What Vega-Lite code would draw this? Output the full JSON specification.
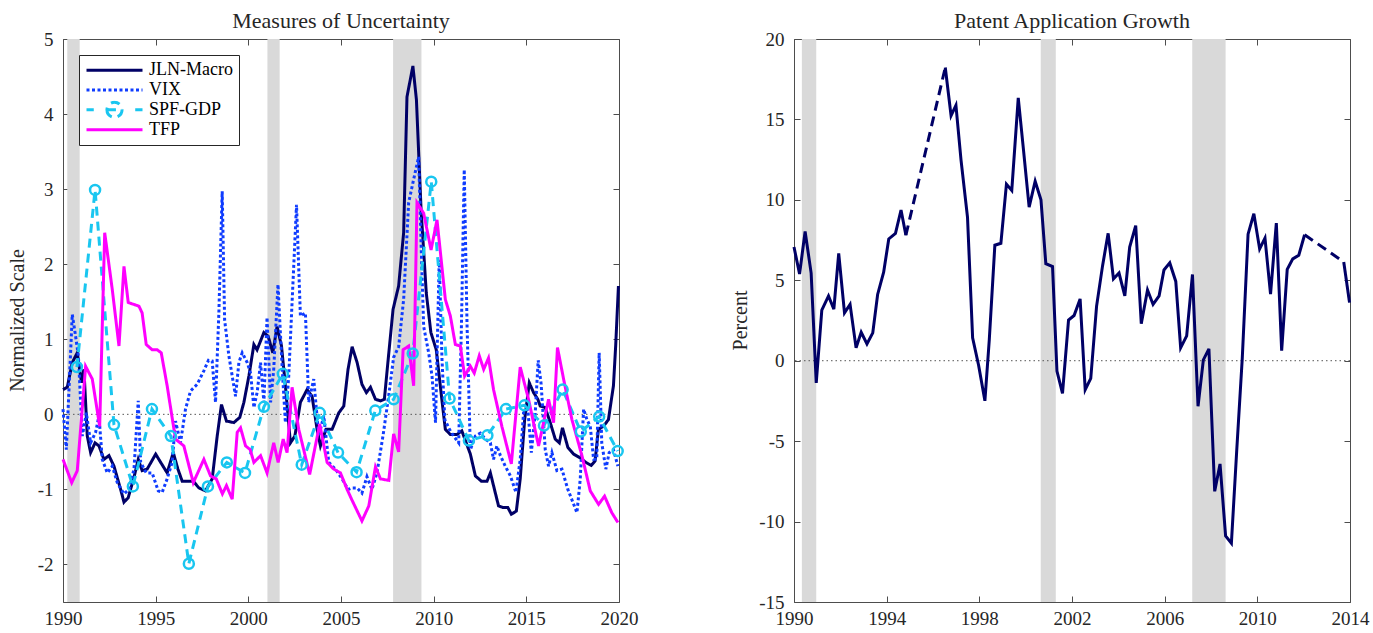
{
  "$schema": "https://vega.github.io/schema/vega-lite/v6.json",
  "padding": {"left": 6, "top": 9, "right": 0, "bottom": 0},
  "spacing": 175,
  "bounds": "flush",
  "config": {
    "font": "Liberation Serif",
    "view": {"stroke": "#4d4d4d", "strokeWidth": 1},
    "axis": {"labelFont": "Liberation Serif", "labelFontSize": 19, "labelColor": "#262626", "domain": false, "tickColor": "#4d4d4d", "tickSize": -6, "grid": false, "titleFont": "Liberation Serif", "titleFontSize": 20, "titleFontWeight": "normal", "titleColor": "#262626", "labelFlush": false, "labelOverlap": false},
    "title": {"font": "Liberation Serif", "fontSize": 22, "fontWeight": "normal", "color": "#262626"}
  },
  "datasets": {
    "rec1": [{"a": 1990.23, "b": 1990.9}, {"a": 2001.03, "b": 2001.69}, {"a": 2007.81, "b": 2009.34}],
    "rec2": [{"a": 1990.34, "b": 1990.96}, {"a": 2000.65, "b": 2001.3}, {"a": 2007.19, "b": 2008.63}],
    "left": [
      {"s":"JLN-Macro","x":1990.0,"y":0.33},{"s":"JLN-Macro","x":1990.23,"y":0.36},{"s":"JLN-Macro","x":1990.5,"y":0.69},{"s":"JLN-Macro","x":1990.77,"y":0.82},{"s":"JLN-Macro","x":1991.0,"y":0.42},{"s":"JLN-Macro","x":1991.13,"y":0.6},{"s":"JLN-Macro","x":1991.31,"y":-0.29},{"s":"JLN-Macro","x":1991.49,"y":-0.51},{"s":"JLN-Macro","x":1991.73,"y":-0.38},{"s":"JLN-Macro","x":1991.94,"y":-0.42},{"s":"JLN-Macro","x":1992.21,"y":-0.6},{"s":"JLN-Macro","x":1992.48,"y":-0.55},{"s":"JLN-Macro","x":1992.75,"y":-0.69},{"s":"JLN-Macro","x":1993.11,"y":-1.0},{"s":"JLN-Macro","x":1993.29,"y":-1.17},{"s":"JLN-Macro","x":1993.52,"y":-1.11},{"s":"JLN-Macro","x":1993.83,"y":-0.84},{"s":"JLN-Macro","x":1994.06,"y":-0.6},{"s":"JLN-Macro","x":1994.27,"y":-0.75},{"s":"JLN-Macro","x":1994.54,"y":-0.73},{"s":"JLN-Macro","x":1995.0,"y":-0.53},{"s":"JLN-Macro","x":1995.27,"y":-0.64},{"s":"JLN-Macro","x":1995.62,"y":-0.78},{"s":"JLN-Macro","x":1995.95,"y":-0.51},{"s":"JLN-Macro","x":1996.2,"y":-0.73},{"s":"JLN-Macro","x":1996.43,"y":-0.89},{"s":"JLN-Macro","x":1996.7,"y":-0.89},{"s":"JLN-Macro","x":1997.03,"y":-0.89},{"s":"JLN-Macro","x":1997.33,"y":-0.98},{"s":"JLN-Macro","x":1997.69,"y":-1.02},{"s":"JLN-Macro","x":1998.05,"y":-0.86},{"s":"JLN-Macro","x":1998.32,"y":-0.29},{"s":"JLN-Macro","x":1998.55,"y":0.13},{"s":"JLN-Macro","x":1998.82,"y":-0.09},{"s":"JLN-Macro","x":1999.22,"y":-0.11},{"s":"JLN-Macro","x":1999.54,"y":-0.04},{"s":"JLN-Macro","x":1999.76,"y":0.16},{"s":"JLN-Macro","x":2000.03,"y":0.51},{"s":"JLN-Macro","x":2000.3,"y":0.93},{"s":"JLN-Macro","x":2000.47,"y":0.86},{"s":"JLN-Macro","x":2000.84,"y":1.09},{"s":"JLN-Macro","x":2001.07,"y":1.04},{"s":"JLN-Macro","x":2001.32,"y":0.82},{"s":"JLN-Macro","x":2001.55,"y":1.17},{"s":"JLN-Macro","x":2001.79,"y":0.91},{"s":"JLN-Macro","x":2002.0,"y":0.38},{"s":"JLN-Macro","x":2002.27,"y":-0.38},{"s":"JLN-Macro","x":2002.51,"y":-0.29},{"s":"JLN-Macro","x":2002.81,"y":0.16},{"s":"JLN-Macro","x":2003.17,"y":0.33},{"s":"JLN-Macro","x":2003.44,"y":0.24},{"s":"JLN-Macro","x":2003.71,"y":-0.2},{"s":"JLN-Macro","x":2003.89,"y":-0.42},{"s":"JLN-Macro","x":2004.19,"y":-0.2},{"s":"JLN-Macro","x":2004.52,"y":-0.2},{"s":"JLN-Macro","x":2004.88,"y":0.02},{"s":"JLN-Macro","x":2005.15,"y":0.11},{"s":"JLN-Macro","x":2005.38,"y":0.6},{"s":"JLN-Macro","x":2005.6,"y":0.9},{"s":"JLN-Macro","x":2005.87,"y":0.69},{"s":"JLN-Macro","x":2006.13,"y":0.4},{"s":"JLN-Macro","x":2006.37,"y":0.29},{"s":"JLN-Macro","x":2006.59,"y":0.36},{"s":"JLN-Macro","x":2006.86,"y":0.2},{"s":"JLN-Macro","x":2007.13,"y":0.18},{"s":"JLN-Macro","x":2007.34,"y":0.2},{"s":"JLN-Macro","x":2007.58,"y":0.82},{"s":"JLN-Macro","x":2007.81,"y":1.4},{"s":"JLN-Macro","x":2008.11,"y":1.71},{"s":"JLN-Macro","x":2008.38,"y":2.42},{"s":"JLN-Macro","x":2008.56,"y":4.23},{"s":"JLN-Macro","x":2008.88,"y":4.64},{"s":"JLN-Macro","x":2009.07,"y":4.19},{"s":"JLN-Macro","x":2009.32,"y":2.73},{"s":"JLN-Macro","x":2009.6,"y":1.62},{"s":"JLN-Macro","x":2009.85,"y":1.09},{"s":"JLN-Macro","x":2010.14,"y":0.86},{"s":"JLN-Macro","x":2010.5,"y":0.07},{"s":"JLN-Macro","x":2010.63,"y":-0.2},{"s":"JLN-Macro","x":2010.9,"y":-0.27},{"s":"JLN-Macro","x":2011.25,"y":-0.27},{"s":"JLN-Macro","x":2011.52,"y":-0.22},{"s":"JLN-Macro","x":2011.98,"y":-0.53},{"s":"JLN-Macro","x":2012.25,"y":-0.82},{"s":"JLN-Macro","x":2012.57,"y":-0.89},{"s":"JLN-Macro","x":2012.88,"y":-0.89},{"s":"JLN-Macro","x":2013.06,"y":-0.78},{"s":"JLN-Macro","x":2013.23,"y":-0.95},{"s":"JLN-Macro","x":2013.5,"y":-1.22},{"s":"JLN-Macro","x":2013.72,"y":-1.24},{"s":"JLN-Macro","x":2014.0,"y":-1.24},{"s":"JLN-Macro","x":2014.19,"y":-1.33},{"s":"JLN-Macro","x":2014.46,"y":-1.29},{"s":"JLN-Macro","x":2014.67,"y":-0.86},{"s":"JLN-Macro","x":2014.91,"y":-0.07},{"s":"JLN-Macro","x":2015.16,"y":0.42},{"s":"JLN-Macro","x":2015.39,"y":0.29},{"s":"JLN-Macro","x":2015.62,"y":0.2},{"s":"JLN-Macro","x":2015.75,"y":0.11},{"s":"JLN-Macro","x":2016.02,"y":0.09},{"s":"JLN-Macro","x":2016.29,"y":-0.11},{"s":"JLN-Macro","x":2016.56,"y":-0.33},{"s":"JLN-Macro","x":2016.78,"y":-0.38},{"s":"JLN-Macro","x":2016.95,"y":-0.18},{"s":"JLN-Macro","x":2017.24,"y":-0.44},{"s":"JLN-Macro","x":2017.55,"y":-0.53},{"s":"JLN-Macro","x":2017.91,"y":-0.58},{"s":"JLN-Macro","x":2018.21,"y":-0.64},{"s":"JLN-Macro","x":2018.5,"y":-0.68},{"s":"JLN-Macro","x":2018.71,"y":-0.62},{"s":"JLN-Macro","x":2018.89,"y":-0.2},{"s":"JLN-Macro","x":2019.16,"y":-0.16},{"s":"JLN-Macro","x":2019.43,"y":-0.07},{"s":"JLN-Macro","x":2019.7,"y":0.38},{"s":"JLN-Macro","x":2019.82,"y":0.91},{"s":"JLN-Macro","x":2019.97,"y":1.71},
      {"s":"VIX","x":1990.0,"y":0.07},{"s":"VIX","x":1990.18,"y":-0.47},{"s":"VIX","x":1990.5,"y":1.33},{"s":"VIX","x":1990.65,"y":1.09},{"s":"VIX","x":1990.83,"y":0.78},{"s":"VIX","x":1991.04,"y":-0.29},{"s":"VIX","x":1991.26,"y":0.02},{"s":"VIX","x":1991.49,"y":-0.38},{"s":"VIX","x":1991.76,"y":-0.24},{"s":"VIX","x":1991.94,"y":-0.02},{"s":"VIX","x":1992.12,"y":-0.6},{"s":"VIX","x":1992.39,"y":-0.78},{"s":"VIX","x":1992.66,"y":-0.69},{"s":"VIX","x":1992.93,"y":-0.91},{"s":"VIX","x":1993.29,"y":-1.06},{"s":"VIX","x":1993.56,"y":-1.0},{"s":"VIX","x":1993.83,"y":-0.73},{"s":"VIX","x":1994.06,"y":0.18},{"s":"VIX","x":1994.19,"y":-0.64},{"s":"VIX","x":1994.49,"y":-0.78},{"s":"VIX","x":1994.81,"y":-0.78},{"s":"VIX","x":1995.14,"y":-1.02},{"s":"VIX","x":1995.35,"y":-1.04},{"s":"VIX","x":1995.62,"y":-0.86},{"s":"VIX","x":1995.89,"y":-0.64},{"s":"VIX","x":1996.07,"y":-0.09},{"s":"VIX","x":1996.34,"y":-0.38},{"s":"VIX","x":1996.61,"y":0.07},{"s":"VIX","x":1996.88,"y":0.31},{"s":"VIX","x":1997.24,"y":0.4},{"s":"VIX","x":1997.6,"y":0.58},{"s":"VIX","x":1997.85,"y":0.72},{"s":"VIX","x":1998.05,"y":0.71},{"s":"VIX","x":1998.23,"y":0.16},{"s":"VIX","x":1998.41,"y":1.35},{"s":"VIX","x":1998.59,"y":2.97},{"s":"VIX","x":1998.72,"y":1.26},{"s":"VIX","x":1998.95,"y":0.78},{"s":"VIX","x":1999.31,"y":0.24},{"s":"VIX","x":1999.49,"y":0.69},{"s":"VIX","x":1999.67,"y":0.82},{"s":"VIX","x":1999.94,"y":0.69},{"s":"VIX","x":2000.12,"y":0.55},{"s":"VIX","x":2000.3,"y":0.09},{"s":"VIX","x":2000.48,"y":0.3},{"s":"VIX","x":2000.66,"y":0.69},{"s":"VIX","x":2000.84,"y":0.16},{"s":"VIX","x":2001.01,"y":1.29},{"s":"VIX","x":2001.2,"y":0.16},{"s":"VIX","x":2001.37,"y":0.6},{"s":"VIX","x":2001.6,"y":1.73},{"s":"VIX","x":2001.82,"y":0.64},{"s":"VIX","x":2002.0,"y":-0.11},{"s":"VIX","x":2002.18,"y":0.51},{"s":"VIX","x":2002.36,"y":1.49},{"s":"VIX","x":2002.6,"y":2.79},{"s":"VIX","x":2002.81,"y":1.31},{"s":"VIX","x":2003.08,"y":1.35},{"s":"VIX","x":2003.26,"y":0.16},{"s":"VIX","x":2003.53,"y":0.47},{"s":"VIX","x":2003.8,"y":-0.29},{"s":"VIX","x":2004.07,"y":-0.02},{"s":"VIX","x":2004.34,"y":-0.64},{"s":"VIX","x":2004.7,"y":-0.73},{"s":"VIX","x":2005.06,"y":-0.86},{"s":"VIX","x":2005.38,"y":-1.0},{"s":"VIX","x":2005.6,"y":-0.98},{"s":"VIX","x":2005.87,"y":-0.98},{"s":"VIX","x":2006.13,"y":-1.05},{"s":"VIX","x":2006.4,"y":-0.83},{"s":"VIX","x":2006.67,"y":-1.0},{"s":"VIX","x":2006.94,"y":-0.78},{"s":"VIX","x":2007.27,"y":-0.28},{"s":"VIX","x":2007.58,"y":0.26},{"s":"VIX","x":2007.84,"y":0.76},{"s":"VIX","x":2008.11,"y":0.9},{"s":"VIX","x":2008.38,"y":1.53},{"s":"VIX","x":2008.65,"y":2.82},{"s":"VIX","x":2008.92,"y":3.13},{"s":"VIX","x":2009.19,"y":3.43},{"s":"VIX","x":2009.32,"y":2.28},{"s":"VIX","x":2009.46,"y":1.17},{"s":"VIX","x":2009.73,"y":0.82},{"s":"VIX","x":2009.91,"y":0.51},{"s":"VIX","x":2010.1,"y":-0.11},{"s":"VIX","x":2010.3,"y":2.06},{"s":"VIX","x":2010.45,"y":0.73},{"s":"VIX","x":2010.6,"y":-0.07},{"s":"VIX","x":2010.85,"y":-0.2},{"s":"VIX","x":2011.08,"y":-0.29},{"s":"VIX","x":2011.35,"y":-0.38},{"s":"VIX","x":2011.5,"y":1.2},{"s":"VIX","x":2011.65,"y":3.26},{"s":"VIX","x":2011.8,"y":1.2},{"s":"VIX","x":2011.98,"y":-0.47},{"s":"VIX","x":2012.25,"y":-0.29},{"s":"VIX","x":2012.52,"y":-0.25},{"s":"VIX","x":2012.79,"y":-0.33},{"s":"VIX","x":2013.06,"y":-0.38},{"s":"VIX","x":2013.23,"y":-0.6},{"s":"VIX","x":2013.41,"y":-0.42},{"s":"VIX","x":2013.6,"y":-0.55},{"s":"VIX","x":2013.86,"y":-0.69},{"s":"VIX","x":2014.14,"y":-0.82},{"s":"VIX","x":2014.44,"y":-1.04},{"s":"VIX","x":2014.67,"y":-0.6},{"s":"VIX","x":2014.85,"y":0.02},{"s":"VIX","x":2015.08,"y":0.07},{"s":"VIX","x":2015.27,"y":-0.51},{"s":"VIX","x":2015.48,"y":0.02},{"s":"VIX","x":2015.64,"y":0.72},{"s":"VIX","x":2015.8,"y":0.4},{"s":"VIX","x":2016.02,"y":-0.47},{"s":"VIX","x":2016.2,"y":-0.69},{"s":"VIX","x":2016.38,"y":-0.51},{"s":"VIX","x":2016.65,"y":-0.75},{"s":"VIX","x":2016.92,"y":-0.73},{"s":"VIX","x":2017.24,"y":-1.0},{"s":"VIX","x":2017.51,"y":-1.17},{"s":"VIX","x":2017.73,"y":-1.31},{"s":"VIX","x":2017.91,"y":-0.86},{"s":"VIX","x":2018.09,"y":0.07},{"s":"VIX","x":2018.27,"y":-0.07},{"s":"VIX","x":2018.45,"y":-0.16},{"s":"VIX","x":2018.63,"y":-0.6},{"s":"VIX","x":2018.8,"y":-0.6},{"s":"VIX","x":2018.93,"y":0.82},{"s":"VIX","x":2019.07,"y":-0.38},{"s":"VIX","x":2019.29,"y":-0.73},{"s":"VIX","x":2019.47,"y":-0.51},{"s":"VIX","x":2019.7,"y":-0.47},{"s":"VIX","x":2019.94,"y":-0.69},
      {"s":"SPF-GDP","x":1990.75,"y":0.63},{"s":"SPF-GDP","x":1991.73,"y":2.99},{"s":"SPF-GDP","x":1992.75,"y":-0.14},{"s":"SPF-GDP","x":1993.77,"y":-0.96},{"s":"SPF-GDP","x":1994.8,"y":0.07},{"s":"SPF-GDP","x":1995.82,"y":-0.29},{"s":"SPF-GDP","x":1996.79,"y":-1.99},{"s":"SPF-GDP","x":1997.82,"y":-0.96},{"s":"SPF-GDP","x":1998.84,"y":-0.64},{"s":"SPF-GDP","x":1999.82,"y":-0.78},{"s":"SPF-GDP","x":2000.84,"y":0.1},{"s":"SPF-GDP","x":2001.86,"y":0.54},{"s":"SPF-GDP","x":2002.88,"y":-0.67},{"s":"SPF-GDP","x":2003.85,"y":0.02},{"s":"SPF-GDP","x":2004.84,"y":-0.51},{"s":"SPF-GDP","x":2005.84,"y":-0.77},{"s":"SPF-GDP","x":2006.85,"y":0.05},{"s":"SPF-GDP","x":2007.84,"y":0.2},{"s":"SPF-GDP","x":2008.87,"y":0.81},{"s":"SPF-GDP","x":2009.87,"y":3.1},{"s":"SPF-GDP","x":2010.86,"y":0.21},{"s":"SPF-GDP","x":2011.9,"y":-0.35},{"s":"SPF-GDP","x":2012.9,"y":-0.28},{"s":"SPF-GDP","x":2013.9,"y":0.07},{"s":"SPF-GDP","x":2014.9,"y":0.12},{"s":"SPF-GDP","x":2015.95,"y":-0.15},{"s":"SPF-GDP","x":2016.96,"y":0.33},{"s":"SPF-GDP","x":2017.94,"y":-0.23},{"s":"SPF-GDP","x":2018.93,"y":-0.03},{"s":"SPF-GDP","x":2019.93,"y":-0.49},
      {"s":"TFP","x":1990.0,"y":-0.6},{"s":"TFP","x":1990.47,"y":-0.91},{"s":"TFP","x":1990.77,"y":-0.75},{"s":"TFP","x":1991.22,"y":0.64},{"s":"TFP","x":1991.58,"y":0.47},{"s":"TFP","x":1991.98,"y":-0.16},{"s":"TFP","x":1992.25,"y":2.42},{"s":"TFP","x":1992.66,"y":1.66},{"s":"TFP","x":1993.02,"y":0.91},{"s":"TFP","x":1993.29,"y":1.97},{"s":"TFP","x":1993.52,"y":1.49},{"s":"TFP","x":1994.1,"y":1.44},{"s":"TFP","x":1994.27,"y":1.35},{"s":"TFP","x":1994.49,"y":0.93},{"s":"TFP","x":1994.81,"y":0.86},{"s":"TFP","x":1995.08,"y":0.86},{"s":"TFP","x":1995.3,"y":0.82},{"s":"TFP","x":1995.62,"y":0.38},{"s":"TFP","x":1996.07,"y":-0.33},{"s":"TFP","x":1996.52,"y":-0.42},{"s":"TFP","x":1997.03,"y":-0.91},{"s":"TFP","x":1997.6,"y":-0.6},{"s":"TFP","x":1997.96,"y":-0.82},{"s":"TFP","x":1998.27,"y":-0.86},{"s":"TFP","x":1998.6,"y":-1.06},{"s":"TFP","x":1998.82,"y":-0.95},{"s":"TFP","x":1999.13,"y":-1.13},{"s":"TFP","x":1999.4,"y":-0.24},{"s":"TFP","x":1999.58,"y":-0.18},{"s":"TFP","x":1999.85,"y":-0.42},{"s":"TFP","x":2000.1,"y":-0.47},{"s":"TFP","x":2000.3,"y":-0.64},{"s":"TFP","x":2000.66,"y":-0.55},{"s":"TFP","x":2001.01,"y":-0.78},{"s":"TFP","x":2001.37,"y":-0.38},{"s":"TFP","x":2001.61,"y":-0.64},{"s":"TFP","x":2001.88,"y":-0.33},{"s":"TFP","x":2002.09,"y":-0.51},{"s":"TFP","x":2002.36,"y":0.36},{"s":"TFP","x":2002.72,"y":-0.2},{"s":"TFP","x":2003.31,"y":-0.8},{"s":"TFP","x":2003.85,"y":-0.13},{"s":"TFP","x":2004.25,"y":-0.64},{"s":"TFP","x":2004.61,"y":-0.73},{"s":"TFP","x":2004.97,"y":-0.78},{"s":"TFP","x":2005.33,"y":-1.0},{"s":"TFP","x":2005.55,"y":-1.12},{"s":"TFP","x":2006.13,"y":-1.42},{"s":"TFP","x":2006.5,"y":-1.22},{"s":"TFP","x":2006.86,"y":-0.7},{"s":"TFP","x":2007.13,"y":-0.86},{"s":"TFP","x":2007.58,"y":-0.88},{"s":"TFP","x":2007.84,"y":-0.26},{"s":"TFP","x":2008.11,"y":-0.5},{"s":"TFP","x":2008.35,"y":0.86},{"s":"TFP","x":2008.65,"y":0.91},{"s":"TFP","x":2008.92,"y":0.38},{"s":"TFP","x":2009.1,"y":2.82},{"s":"TFP","x":2009.46,"y":2.68},{"s":"TFP","x":2009.86,"y":2.19},{"s":"TFP","x":2010.18,"y":2.59},{"s":"TFP","x":2010.63,"y":1.53},{"s":"TFP","x":2010.9,"y":1.31},{"s":"TFP","x":2011.17,"y":0.93},{"s":"TFP","x":2011.44,"y":0.91},{"s":"TFP","x":2011.67,"y":0.51},{"s":"TFP","x":2011.98,"y":0.64},{"s":"TFP","x":2012.19,"y":0.55},{"s":"TFP","x":2012.46,"y":0.78},{"s":"TFP","x":2012.7,"y":0.6},{"s":"TFP","x":2012.96,"y":0.75},{"s":"TFP","x":2013.23,"y":0.33},{"s":"TFP","x":2013.68,"y":-0.16},{"s":"TFP","x":2014.19,"y":-0.66},{"s":"TFP","x":2014.67,"y":0.63},{"s":"TFP","x":2015.12,"y":0.2},{"s":"TFP","x":2015.5,"y":-0.24},{"s":"TFP","x":2015.66,"y":-0.42},{"s":"TFP","x":2015.93,"y":-0.11},{"s":"TFP","x":2016.2,"y":0.2},{"s":"TFP","x":2016.47,"y":-0.11},{"s":"TFP","x":2016.68,"y":0.89},{"s":"TFP","x":2017.01,"y":0.47},{"s":"TFP","x":2017.46,"y":-0.07},{"s":"TFP","x":2018.0,"y":-0.55},{"s":"TFP","x":2018.45,"y":-1.02},{"s":"TFP","x":2018.9,"y":-1.2},{"s":"TFP","x":2019.22,"y":-1.09},{"s":"TFP","x":2019.61,"y":-1.31},{"s":"TFP","x":2019.94,"y":-1.44}
    ],
    "right": [
      {"seg":1,"st":"obs","x":1990.0,"y":7.07},{"seg":1,"st":"obs","x":1990.24,"y":5.39},{"seg":1,"st":"obs","x":1990.48,"y":8.03},{"seg":1,"st":"obs","x":1990.74,"y":5.45},{"seg":1,"st":"obs","x":1990.96,"y":-1.38},{"seg":1,"st":"obs","x":1991.2,"y":3.15},{"seg":1,"st":"obs","x":1991.49,"y":4.03},{"seg":1,"st":"obs","x":1991.72,"y":3.2},{"seg":1,"st":"obs","x":1991.93,"y":6.67},{"seg":1,"st":"obs","x":1992.18,"y":2.97},{"seg":1,"st":"obs","x":1992.42,"y":3.5},{"seg":1,"st":"obs","x":1992.68,"y":0.8},{"seg":1,"st":"obs","x":1992.9,"y":1.77},{"seg":1,"st":"obs","x":1993.15,"y":1.04},{"seg":1,"st":"obs","x":1993.4,"y":1.73},{"seg":1,"st":"obs","x":1993.61,"y":4.12},{"seg":1,"st":"obs","x":1993.87,"y":5.5},{"seg":1,"st":"obs","x":1994.09,"y":7.57},{"seg":1,"st":"obs","x":1994.38,"y":7.92},{"seg":1,"st":"obs","x":1994.62,"y":9.37},{"seg":1,"st":"obs","x":1994.83,"y":7.8},
      {"seg":2,"st":"gap","x":1994.83,"y":7.8},{"seg":2,"st":"gap","x":1996.53,"y":18.23},
      {"seg":3,"st":"obs","x":1996.53,"y":18.23},{"seg":3,"st":"obs","x":1996.78,"y":15.24},{"seg":3,"st":"obs","x":1996.99,"y":15.88},{"seg":3,"st":"obs","x":1997.21,"y":12.47},{"seg":3,"st":"obs","x":1997.49,"y":8.91},{"seg":3,"st":"obs","x":1997.71,"y":1.43},{"seg":3,"st":"obs","x":1997.97,"y":-0.3},{"seg":3,"st":"obs","x":1998.24,"y":-2.49},{"seg":3,"st":"obs","x":1998.43,"y":1.31},{"seg":3,"st":"obs","x":1998.67,"y":7.18},{"seg":3,"st":"obs","x":1998.93,"y":7.3},{"seg":3,"st":"obs","x":1999.17,"y":10.98},{"seg":3,"st":"obs","x":1999.4,"y":10.59},{"seg":3,"st":"obs","x":1999.68,"y":16.34},{"seg":3,"st":"obs","x":1999.91,"y":13.05},{"seg":3,"st":"obs","x":2000.15,"y":9.55},{"seg":3,"st":"obs","x":2000.41,"y":11.16},{"seg":3,"st":"obs","x":2000.66,"y":10.01},{"seg":3,"st":"obs","x":2000.87,"y":6.03},{"seg":3,"st":"obs","x":2001.16,"y":5.85},{"seg":3,"st":"obs","x":2001.35,"y":-0.64},{"seg":3,"st":"obs","x":2001.59,"y":-2.03},{"seg":3,"st":"obs","x":2001.85,"y":2.53},{"seg":3,"st":"obs","x":2002.09,"y":2.81},{"seg":3,"st":"obs","x":2002.35,"y":3.84},{"seg":3,"st":"obs","x":2002.57,"y":-1.8},{"seg":3,"st":"obs","x":2002.81,"y":-1.1},{"seg":3,"st":"obs","x":2003.06,"y":3.38},{"seg":3,"st":"obs","x":2003.32,"y":5.91},{"seg":3,"st":"obs","x":2003.56,"y":7.92},{"seg":3,"st":"obs","x":2003.79,"y":5.09},{"seg":3,"st":"obs","x":2004.03,"y":5.45},{"seg":3,"st":"obs","x":2004.28,"y":4.03},{"seg":3,"st":"obs","x":2004.49,"y":7.07},{"seg":3,"st":"obs","x":2004.75,"y":8.4},{"seg":3,"st":"obs","x":2004.99,"y":2.3},{"seg":3,"st":"obs","x":2005.26,"y":4.4},{"seg":3,"st":"obs","x":2005.5,"y":3.5},{"seg":3,"st":"obs","x":2005.76,"y":4.03},{"seg":3,"st":"obs","x":2005.97,"y":5.64},{"seg":3,"st":"obs","x":2006.22,"y":6.08},{"seg":3,"st":"obs","x":2006.48,"y":4.93},{"seg":3,"st":"obs","x":2006.69,"y":0.8},{"seg":3,"st":"obs","x":2006.95,"y":1.54},{"seg":3,"st":"obs","x":2007.2,"y":5.36},{"seg":3,"st":"obs","x":2007.44,"y":-2.83},{"seg":3,"st":"obs","x":2007.67,"y":0.05},{"seg":3,"st":"obs","x":2007.91,"y":0.74},{"seg":3,"st":"obs","x":2008.16,"y":-8.12},{"seg":3,"st":"obs","x":2008.39,"y":-6.42},{"seg":3,"st":"obs","x":2008.63,"y":-10.89},{"seg":3,"st":"obs","x":2008.88,"y":-11.35},{"seg":3,"st":"obs","x":2009.11,"y":-5.59},{"seg":3,"st":"obs","x":2009.35,"y":0.16},{"seg":3,"st":"obs","x":2009.6,"y":7.87},{"seg":3,"st":"obs","x":2009.85,"y":9.14},{"seg":3,"st":"obs","x":2010.1,"y":6.95},{"seg":3,"st":"obs","x":2010.33,"y":7.62},{"seg":3,"st":"obs","x":2010.57,"y":4.14},{"seg":3,"st":"obs","x":2010.82,"y":8.56},{"seg":3,"st":"obs","x":2011.05,"y":0.62},{"seg":3,"st":"obs","x":2011.29,"y":5.68},{"seg":3,"st":"obs","x":2011.53,"y":6.33},{"seg":3,"st":"obs","x":2011.79,"y":6.56},{"seg":3,"st":"obs","x":2012.04,"y":7.83},
      {"seg":4,"st":"gap","x":2012.04,"y":7.83},{"seg":4,"st":"gap","x":2013.73,"y":6.14},
      {"seg":5,"st":"obs","x":2013.73,"y":6.14},{"seg":5,"st":"obs","x":2013.98,"y":3.61}
    ]
  },
  "hconcat": [
    {
      "width": 556, "height": 563,
      "title": {"text": "Measures of Uncertainty", "offset": -3},
      "layer": [
        {"data": {"name": "rec1"}, "mark": {"type": "rect", "color": "#d9d9d9"},
         "encoding": {"x": {"field": "a", "type": "quantitative", "scale": {"domain": [1990, 2020], "nice": false, "zero": false}, "axis": null}, "x2": {"field": "b"}}},
        {"data": {"values": [{}]}, "mark": {"type": "rule", "strokeDash": [1.5, 3], "color": "#555555", "strokeWidth": 1},
         "encoding": {"y": {"datum": 0, "type": "quantitative", "axis": null}}},
        {"data": {"name": "left"}, "mark": {"type": "line", "strokeWidth": 3},
         "encoding": {
           "x": {"field": "x", "type": "quantitative", "axis": {"values": [1990, 1995, 2000, 2005, 2010, 2015, 2020], "format": "d", "title": null, "labelPadding": 13}},
           "y": {"field": "y", "type": "quantitative", "scale": {"domain": [-2.5, 5], "nice": false, "zero": false}, "axis": {"values": [-2, -1, 0, 1, 2, 3, 4, 5], "labelExpr": "replace(datum.label, '\u2212', '-')", "title": "Normalized Scale", "labelPadding": 16, "titleX": -46, "titleY": 281, "titleBaseline": "middle", "titleAngle": -90}},
           "color": {"field": "s", "type": "nominal", "scale": {"domain": ["JLN-Macro", "VIX", "SPF-GDP", "TFP"], "range": ["#000066", "#0f3cff", "#19c6f0", "#ff00ff"]},
             "legend": {"orient": "none", "legendX": 16, "legendY": 16, "title": null, "symbolType": "stroke", "symbolSize": 3136, "symbolStrokeWidth": 3, "labelFont": "Liberation Serif", "labelFontSize": 18, "labelColor": "#000000", "labelOffset": 5, "padding": 6, "rowPadding": 0.8, "clipHeight": 18.5, "strokeColor": "#262626", "fillColor": "#ffffff", "cornerRadius": 0,
               "encode": {"symbols": {"update": {"shape": {"signal": "datum.value === 'SPF-GDP' ? 'M-1,0H-0.74M0.74,0H1M-0.27,0H0.27M-0.27,0A0.27,0.27 0 1,0 0.27,0A0.27,0.27 0 1,0 -0.27,0' : 'stroke'"}, "strokeDash": {"signal": "datum.value === 'VIX' ? [3,2.5] : [1,0]"}, "fill": {"value": "transparent"}}}}}},
           "strokeDash": {"field": "s", "type": "nominal", "scale": {"domain": ["JLN-Macro", "VIX", "SPF-GDP", "TFP"], "range": [[1, 0], [3, 2.5], [9, 6], [1, 0]]}, "legend": null}
         }},
        {"data": {"name": "left"}, "transform": [{"filter": "datum.s === 'SPF-GDP'"}],
         "mark": {"type": "point", "shape": "circle", "filled": false, "size": 100, "strokeWidth": 2.5, "color": "#19c6f0", "opacity": 1},
         "encoding": {"x": {"field": "x", "type": "quantitative", "axis": null}, "y": {"field": "y", "type": "quantitative", "axis": null}}},
        {"data": {"name": "left"}, "mark": {"type": "point", "opacity": 0},
         "encoding": {"x": {"field": "x", "type": "quantitative", "axis": {"orient": "top", "values": [1990, 1995, 2000, 2005, 2010, 2015, 2020], "labels": false, "title": null}},
                      "y": {"field": "y", "type": "quantitative", "axis": {"orient": "right", "values": [-2, -1, 0, 1, 2, 3, 4, 5], "labels": false, "title": null}}}}
      ],
      "resolve": {"axis": {"x": "independent", "y": "independent"}}
    },
    {
      "width": 556, "height": 563,
      "title": {"text": "Patent Application Growth", "offset": -3},
      "layer": [
        {"data": {"name": "rec2"}, "mark": {"type": "rect", "color": "#d9d9d9"},
         "encoding": {"x": {"field": "a", "type": "quantitative", "scale": {"domain": [1990, 2014], "nice": false, "zero": false}, "axis": null}, "x2": {"field": "b"}}},
        {"data": {"values": [{}]}, "mark": {"type": "rule", "strokeDash": [1.5, 3], "color": "#555555", "strokeWidth": 1},
         "encoding": {"y": {"datum": 0, "type": "quantitative", "axis": null}}},
        {"data": {"name": "right"}, "transform": [{"filter": "datum.st === 'obs'"}], "mark": {"type": "line", "strokeWidth": 3, "color": "#000066"},
         "encoding": {
           "x": {"field": "x", "type": "quantitative", "axis": {"values": [1990, 1994, 1998, 2002, 2006, 2010, 2014], "format": "d", "title": null, "labelPadding": 13}},
           "y": {"field": "y", "type": "quantitative", "scale": {"domain": [-15, 20], "nice": false, "zero": false}, "axis": {"values": [-15, -10, -5, 0, 5, 10, 15, 20], "labelExpr": "replace(datum.label, '\u2212', '-')", "title": "Percent", "labelPadding": 16, "titleX": -54, "titleY": 281, "titleBaseline": "middle", "titleAngle": -90}},
           "detail": {"field": "seg", "type": "nominal"}
         }},
        {"data": {"name": "right"}, "transform": [{"filter": "datum.st === 'gap'"}], "mark": {"type": "line", "strokeWidth": 3, "color": "#000066", "strokeDash": [10, 6]},
         "encoding": {
           "x": {"field": "x", "type": "quantitative", "axis": null},
           "y": {"field": "y", "type": "quantitative", "axis": null},
           "detail": {"field": "seg", "type": "nominal"}
         }},
        {"data": {"name": "right"}, "mark": {"type": "point", "opacity": 0},
         "encoding": {"x": {"field": "x", "type": "quantitative", "axis": {"orient": "top", "values": [1990, 1994, 1998, 2002, 2006, 2010, 2014], "labels": false, "title": null}},
                      "y": {"field": "y", "type": "quantitative", "axis": {"orient": "right", "values": [-15, -10, -5, 0, 5, 10, 15, 20], "labels": false, "title": null}}}}
      ],
      "resolve": {"axis": {"x": "independent", "y": "independent"}}
    }
  ]
}
